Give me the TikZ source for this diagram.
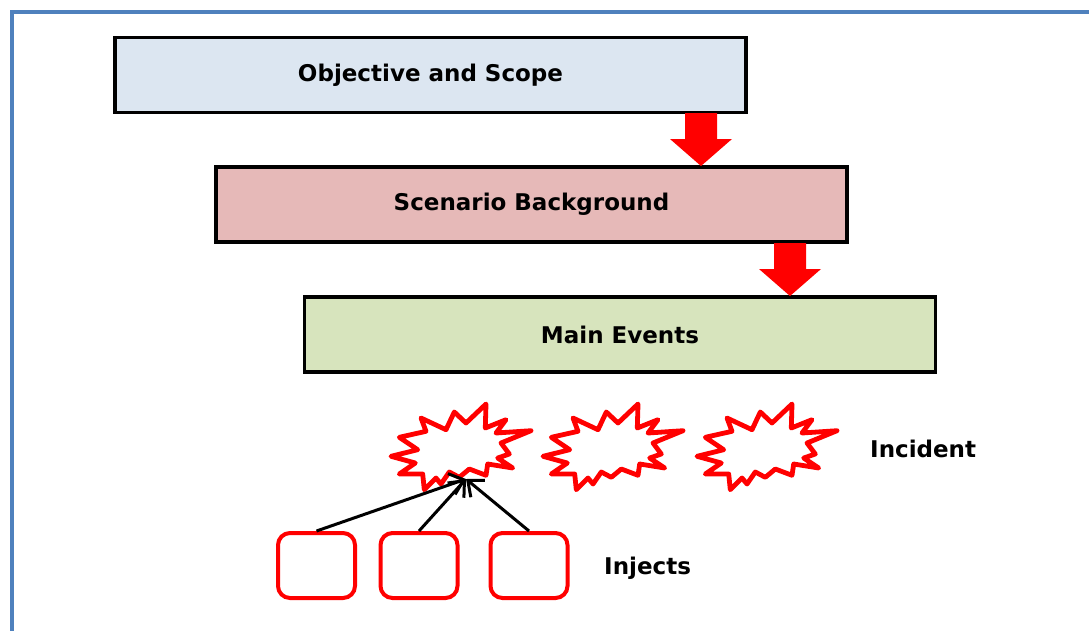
\documentclass[tikz,border=0pt]{standalone}
\usepackage{fontspec}
\setmainfont{DejaVu Sans}
\usetikzlibrary{arrows.meta}
\definecolor{frameblue}{HTML}{4F81BD}
\definecolor{objfill}{HTML}{DCE6F1}
\definecolor{scenfill}{HTML}{E6B9B8}
\definecolor{mainfill}{HTML}{D7E4BD}
\definecolor{bangred}{HTML}{FF0000}
\tikzset{
  stagebox/.style={draw=black, line width=3.2pt, minimum width=631pt, minimum height=75pt, inner sep=0pt, font=\fontsize{23}{26}\selectfont\bfseries},
  injectbox/.style={draw=bangred, line width=4pt, rounded corners=12pt, minimum width=77pt, minimum height=65pt, inner sep=0pt},
  label/.style={font=\fontsize{23}{26}\selectfont\bfseries, inner sep=0pt},
  bigarrow/.style={fill=bangred, draw=none},
  feed/.style={draw=black, line width=3pt, -{Straight Barb[length=13pt,width=22pt,line width=3pt]}},
  bang/.style={draw=bangred, line width=4.8pt, fill=white, line join=round}
}
\newcommand{\bangshape}[3]{% center x, center y, name
  \draw[bang, shift={(#1,#2)}]
    (-70,9.3) -- (-43.3,2.7) -- (-61.7,-9.7) -- (-35,-15.7) -- (-40,-29) --
    (-15,-17.3) -- (-6.7,-35) -- (5,-24) -- (25,-43) -- (24.3,-19) --
    (45,-27.3) -- (35,-14) -- (70,-16.3) -- (40,-4) -- (48.3,7) --
    (36.7,11) -- (51.7,21) -- (26.7,17) -- (25,28.3) -- (8.3,22) --
    (-1.7,30.3) -- (-11.7,25) -- (-20,37) -- (-25,31) -- (-36.7,42.7) --
    (-38.3,27) -- (-61.7,27) -- (-45.7,16) -- cycle;
  \coordinate (#3) at (#1,#2);
}
\begin{document}
\begin{tikzpicture}[x=1pt,y=-1pt]
\useasboundingbox (0,0) rectangle (1089,630);
% frame
\draw[frameblue, line width=4.5pt] (12,632) -- (12,12) -- (1091,12);
% stage boxes
\node[stagebox, fill=objfill] (obj) at (430.5,75) {Objective and Scope};
\node[stagebox, fill=scenfill] (scen) at (531.5,204.5) {Scenario Background};
\node[stagebox, fill=mainfill] (main) at (620,334.5) {Main Events};
% big red arrows
\fill[bigarrow] (685,113) -- (717,113) -- (717,139) -- (732,139) -- (701,166) -- (670,139) -- (685,139) -- cycle;
\fill[bigarrow] (774,243) -- (806,243) -- (806,269) -- (821,269) -- (790,296) -- (759,269) -- (774,269) -- cycle;
% incidents
\bangshape{461}{447}{b1}
\bangshape{613}{447}{b2}
\bangshape{767}{447}{b3}
\node[label, anchor=west] (inc) at (870,449) {Incident};
% injects
\node[injectbox] (i1) at (316.5,565.5) {};
\node[injectbox] (i2) at (419,565.5) {};
\node[injectbox] (i3) at (529,565.5) {};
\node[label, anchor=west] (inj) at (604,568) {Injects};
\coordinate (tip) at (466,479);
\draw[feed] (i1.north) -- (tip);
\draw[feed] (i2.north) -- (tip);
\draw[feed] (i3.north) -- (tip);
\end{tikzpicture}
\end{document}
